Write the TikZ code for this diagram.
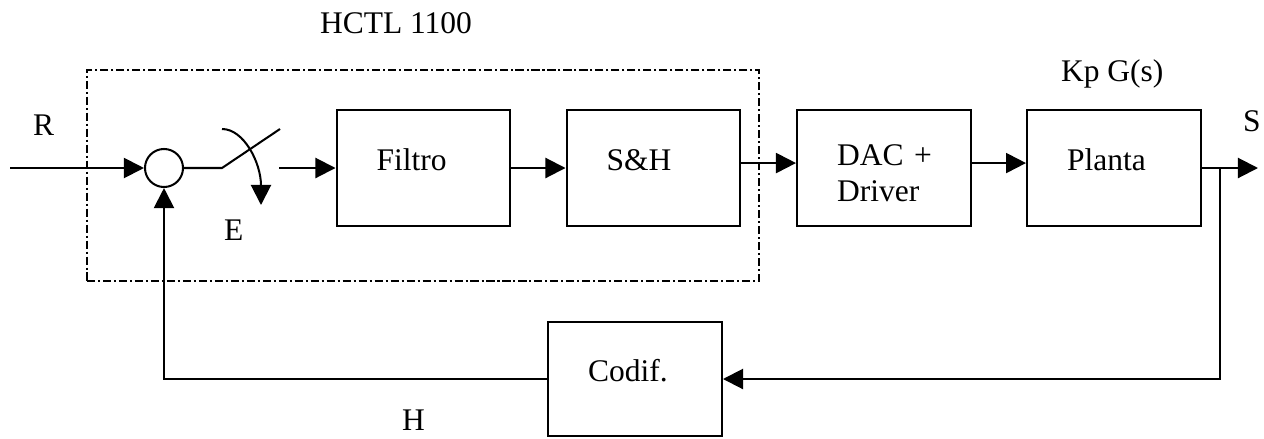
\documentclass[tikz,border=0pt]{standalone}
\usepackage{fontspec}
\setmainfont{Liberation Serif}
\usetikzlibrary{arrows.meta}
\begin{document}
\begin{tikzpicture}[x=0.4444pt,y=-0.4444pt,
  line width=0.9pt,
  font=\fontsize{14}{16}\selectfont,
  tip/.style={-{Triangle[length=8.9pt,width=8.9pt]}},
  block/.style={draw, rectangle, inner xsep=17.8pt, inner ysep=0pt,
    text width=41.7pt, align=left, minimum height=51.6pt,
    text height=9.3pt, text depth=7.5pt},
  lbl/.style={anchor=base west, inner sep=0pt},
  frame/.style={draw, line width=0.8pt, inner sep=0pt,
    dash pattern=on 3.6pt off 1.3pt on 0.9pt off 1.3pt},
  sumnode/.style={draw, circle, inner sep=0pt, minimum size=16.9pt}
]
\useasboundingbox (0,0) rectangle (1264,438);

% controller frame
\node[frame, minimum width=298.6pt, minimum height=93.8pt] (hctl) at (423,175.5) {};

% blocks
\node[sumnode] (sum) at (164,168) {};
\node[block] (filtro) at (423.5,168) {Filtro};
\node[block] (sh) at (653.5,168) {S\&H};
\node[block, text height=9.3pt, text depth=11.1pt] (dac) at (884,168) {\mbox{DAC +}\\Driver};
\node[block] (planta) at (1114,168) {Planta};
\node[block, minimum height=50.7pt] (codif) at (635,379) {Codif.};

% labels
\node[lbl] (tH) at (319,33) {HCTL 1100};
\node[lbl] (tR) at (32,135) {R};
\node[lbl] (tE) at (223,240) {E};
\node[lbl] (tK) at (1060,81) {Kp G(s)};
\node[lbl] (tS) at (1242,131) {S};
\node[lbl] (tHf) at (401,430) {H};

% helper points
\coordinate (in) at (10,168);
\coordinate (sw1) at (222,168);
\coordinate (sw2) at (280,129);
\coordinate (swa) at (222,129);
\coordinate (swb) at (261,205);
\coordinate (sw3) at (279,168);
\coordinate (out) at (1258,168);
\coordinate (br) at (1220,168);
\coordinate (brd) at (1220,379);
\coordinate (fb) at (164,379);

% forward path
\draw[tip] (in) -- (sum.west);
\draw (sum.east) -- (sw1) -- (sw2);
\draw[tip] (swa) .. controls (244,129) and (261,163) .. (swb);
\draw[tip] (sw3) -- (filtro.west);
\draw[tip] (filtro.east) -- (sh.west);
\draw[tip] ([yshift=2.2pt]sh.east) -- ([yshift=2.2pt]dac.west);
\draw[tip] ([yshift=2.2pt]dac.east) -- ([yshift=2.2pt]planta.west);
\draw[tip] (planta.east) -- (out);

% feedback path
\draw[tip] (br) -- (brd) -- (codif.east);
\draw[tip] (codif.west) -- (fb) -- (sum.south);
\end{tikzpicture}
\end{document}
